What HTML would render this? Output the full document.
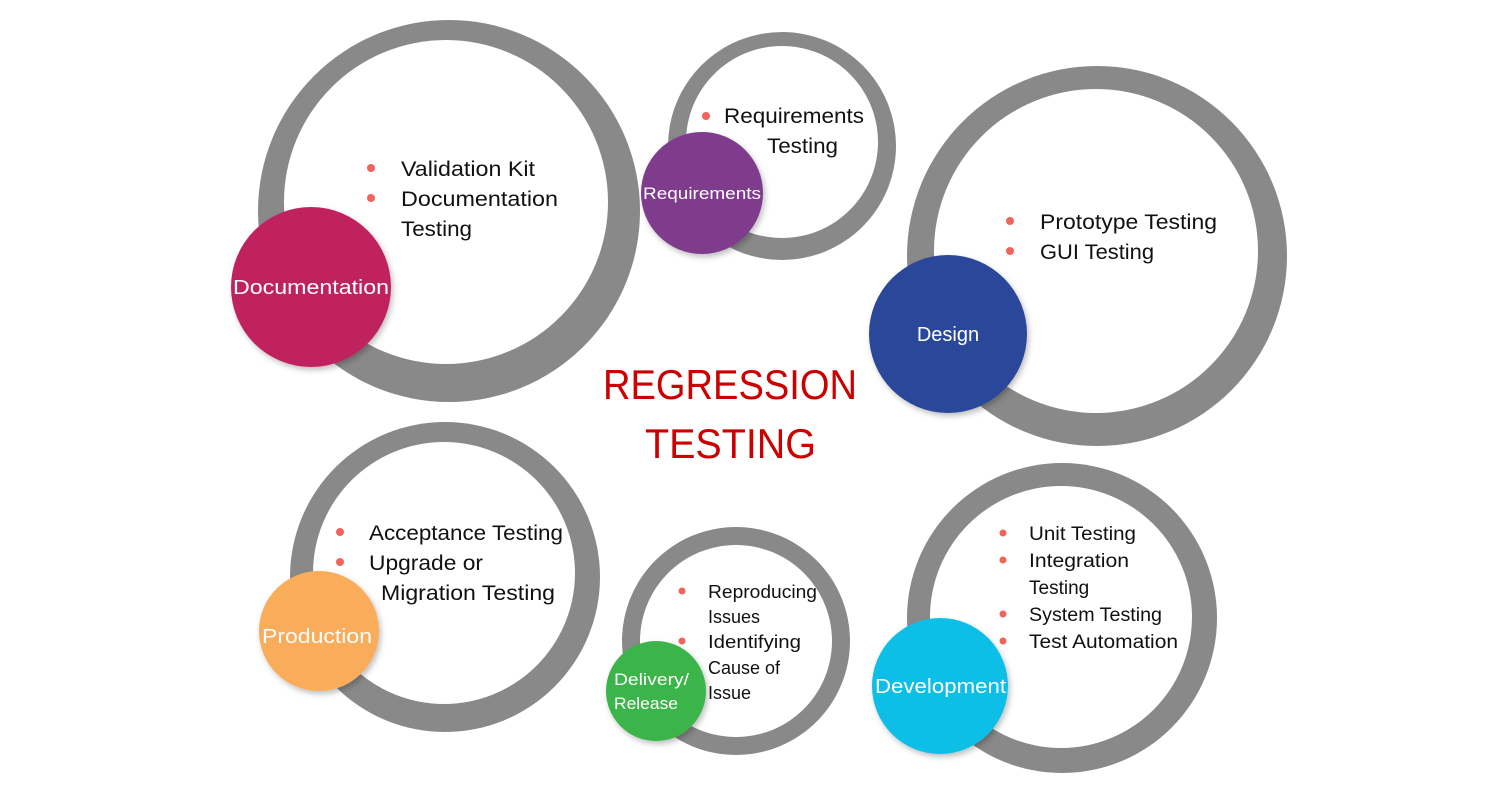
<!DOCTYPE html>
<html><head><meta charset="utf-8"><style>
html,body{margin:0;padding:0;background:#fff;}
svg{display:block;}
text{font-family:"Liberation Sans",sans-serif;}
.t{font-size:21px;fill:#111;}
.s{font-size:18px;fill:#111;}
.w{fill:#fff;font-size:20px;}
</style></head><body>
<svg width="1500" height="800" viewBox="0 0 1500 800">
<defs><filter id="sh" x="-20%" y="-20%" width="140%" height="140%"><feDropShadow dx="2" dy="3" stdDeviation="3" flood-color="#000" flood-opacity="0.25"/></filter></defs>
<!-- Documentation -->
<circle cx="449" cy="211" r="191" fill="#898989"/>
<circle cx="446" cy="202" r="162" fill="#fff"/>
<circle cx="311" cy="287" r="80" fill="#c0215f" filter="url(#sh)"/>
<text x="233" y="294" class="w" textLength="156" lengthAdjust="spacingAndGlyphs">Documentation</text>
<circle cx="371" cy="168" r="4" fill="#f0645a"/><text x="401" y="176" class="t" textLength="134" lengthAdjust="spacingAndGlyphs">Validation Kit</text>
<circle cx="371" cy="198" r="4" fill="#f0645a"/><text x="401" y="206" class="t" textLength="157" lengthAdjust="spacingAndGlyphs">Documentation</text>
<text x="401" y="236" class="t" textLength="71" lengthAdjust="spacingAndGlyphs">Testing</text>
<!-- Requirements -->
<circle cx="782" cy="146" r="114" fill="#898989"/>
<circle cx="782" cy="142" r="96" fill="#fff"/>
<circle cx="702" cy="193" r="61" fill="#7f3a8c" filter="url(#sh)"/>
<text x="643" y="199" class="w" style="font-size:17px" textLength="118" lengthAdjust="spacingAndGlyphs">Requirements</text>
<circle cx="706" cy="116" r="4" fill="#f0645a"/><text x="724" y="123" class="t" textLength="140" lengthAdjust="spacingAndGlyphs">Requirements</text>
<text x="767" y="153" class="t" textLength="71" lengthAdjust="spacingAndGlyphs">Testing</text>
<!-- Design -->
<circle cx="1097" cy="256" r="190" fill="#898989"/>
<circle cx="1096" cy="251" r="162" fill="#fff"/>
<circle cx="948" cy="334" r="79" fill="#2c4699" filter="url(#sh)"/>
<text x="948" y="341" class="w" text-anchor="middle">Design</text>
<circle cx="1010" cy="221" r="4" fill="#f0645a"/><text x="1040" y="229" class="t" textLength="177" lengthAdjust="spacingAndGlyphs">Prototype Testing</text>
<circle cx="1010" cy="251" r="4" fill="#f0645a"/><text x="1040" y="259" class="t" textLength="114" lengthAdjust="spacingAndGlyphs">GUI Testing</text>
<!-- Title -->
<text x="603" y="399" style="font-size:42px;fill:#cc0000" textLength="254" lengthAdjust="spacingAndGlyphs">REGRESSION</text>
<text x="645" y="458" style="font-size:42px;fill:#cc0000" textLength="171" lengthAdjust="spacingAndGlyphs">TESTING</text>
<!-- Production -->
<circle cx="445" cy="577" r="155" fill="#898989"/>
<circle cx="444" cy="573" r="131" fill="#fff"/>
<circle cx="319" cy="631" r="60" fill="#f9ac5a" filter="url(#sh)"/>
<text x="262" y="643" class="w" textLength="110" lengthAdjust="spacingAndGlyphs">Production</text>
<circle cx="340" cy="532" r="4" fill="#f0645a"/><text x="369" y="540" class="t" textLength="194" lengthAdjust="spacingAndGlyphs">Acceptance Testing</text>
<circle cx="340" cy="562" r="4" fill="#f0645a"/><text x="369" y="570" class="t" textLength="114" lengthAdjust="spacingAndGlyphs">Upgrade or</text>
<text x="381" y="600" class="t" textLength="174" lengthAdjust="spacingAndGlyphs">Migration Testing</text>
<!-- Delivery -->
<circle cx="736" cy="641" r="114" fill="#898989"/>
<circle cx="736" cy="641" r="96" fill="#fff"/>
<circle cx="656" cy="691" r="50" fill="#3bb54a" filter="url(#sh)"/>
<text x="614" y="685" class="w" style="font-size:17px" textLength="75" lengthAdjust="spacingAndGlyphs">Delivery/</text>
<text x="614" y="709" class="w" style="font-size:17px" textLength="64" lengthAdjust="spacingAndGlyphs">Release</text>
<circle cx="682" cy="591" r="3.5" fill="#f0645a"/><text x="708" y="598" class="s" textLength="109" lengthAdjust="spacingAndGlyphs">Reproducing</text>
<text x="708" y="623" class="s">Issues</text>
<circle cx="682" cy="641" r="3.5" fill="#f0645a"/><text x="708" y="648" class="s" textLength="93" lengthAdjust="spacingAndGlyphs">Identifying</text>
<text x="708" y="674" class="s">Cause of</text>
<text x="708" y="699" class="s">Issue</text>
<!-- Development -->
<circle cx="1062" cy="618" r="155" fill="#898989"/>
<circle cx="1061" cy="617" r="131" fill="#fff"/>
<circle cx="940" cy="686" r="68" fill="#0abfe6" filter="url(#sh)"/>
<text x="875" y="693" class="w" textLength="131" lengthAdjust="spacingAndGlyphs">Development</text>
<circle cx="1003" cy="533" r="3.5" fill="#f0645a"/><text x="1029" y="540" class="s" style="font-size:19px" textLength="107" lengthAdjust="spacingAndGlyphs">Unit Testing</text>
<circle cx="1003" cy="560" r="3.5" fill="#f0645a"/><text x="1029" y="567" class="s" style="font-size:19px" textLength="100" lengthAdjust="spacingAndGlyphs">Integration</text>
<text x="1029" y="594" class="s" style="font-size:19px">Testing</text>
<circle cx="1003" cy="614" r="3.5" fill="#f0645a"/><text x="1029" y="621" class="s" style="font-size:19px" textLength="133" lengthAdjust="spacingAndGlyphs">System Testing</text>
<circle cx="1003" cy="641" r="3.5" fill="#f0645a"/><text x="1029" y="648" class="s" style="font-size:19px" textLength="149" lengthAdjust="spacingAndGlyphs">Test Automation</text>
</svg>
</body></html>
